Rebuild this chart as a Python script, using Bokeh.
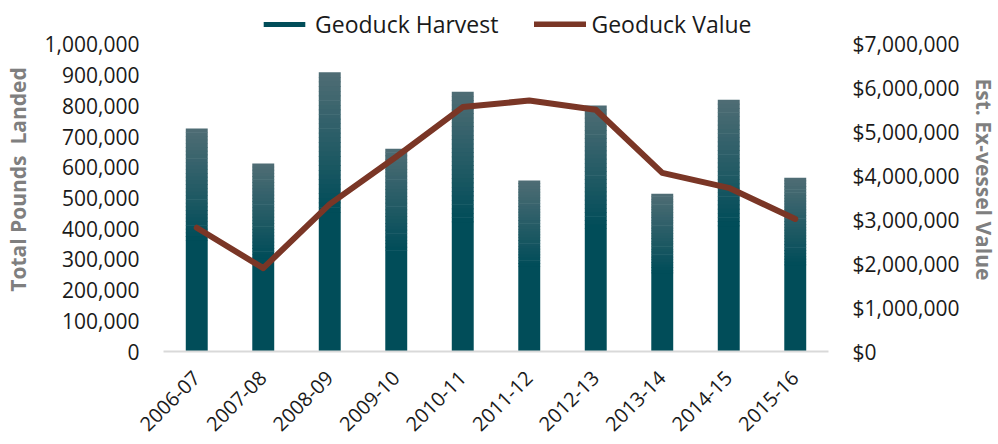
from bokeh.plotting import figure
from bokeh.models import (ColumnDataSource, FactorRange, Range1d, LinearAxis,
                          NumeralTickFormatter, FixedTicker, Legend, LegendItem)
from bokeh.embed import file_html
from bokeh.resources import INLINE
import math

seasons = ["2006-07", "2007-08", "2008-09", "2009-10", "2010-11",
           "2011-12", "2012-13", "2013-14", "2014-15", "2015-16"]
harvest_lbs = [726000, 612000, 909000, 660000, 846000,
               557000, 801000, 514000, 820000, 566000]
value_usd = [2820000, 1900000, 3360000, 4440000, 5570000,
             5720000, 5510000, 4070000, 3730000, 3020000]
left_ticks = [i * 100000 for i in range(11)]
right_ticks = [i * 1000000 for i in range(8)]

TOP_RGB = (78, 108, 116)
DARK_RGB = (1, 77, 89)
DARK = "#014d59"
LINE_COLOR = "#7a3626"
FONT = "Open Sans"
N = 30
HEAD = 1.12  # extra room above the axes for the legend
OVER = 2000  # small overlap between gradient slices (data units)

def mix(t):
    r = [round(TOP_RGB[k] + (DARK_RGB[k] - TOP_RGB[k]) * t) for k in range(3)]
    return "#%02x%02x%02x" % tuple(r)

# gradient over the upper half of each bar, solid below
gx, gt, gb, gc = [], [], [], []
for s, h in zip(seasons, harvest_lbs):
    for k in range(N):
        gx.append(s)
        gt.append(h - h * 0.5 * k / N)
        gb.append(h - h * 0.5 * (k + 1) / N - OVER)
        gc.append(mix(k / (N - 1)))
grad = ColumnDataSource(dict(x=gx, top=gt, bottom=gb, color=gc))
base = ColumnDataSource(dict(x=seasons, top=[h * 0.5 for h in harvest_lbs],
                             bottom=[0] * len(seasons)))
line_src = ColumnDataSource(dict(x=seasons, y=value_usd))

p = figure(x_range=FactorRange(*seasons), y_range=Range1d(0, 1000000 * HEAD),
           frame_width=665, frame_height=round(307 * HEAD), output_backend="svg",
           toolbar_location=None, min_border_left=157, min_border_right=5,
           min_border_top=7, min_border_bottom=0)
p.outline_line_color = None
p.xgrid.grid_line_color = None
p.ygrid.grid_line_color = None

p.extra_y_ranges = {"val": Range1d(0, 7000000 * HEAD)}

bars = p.vbar(x="x", top="top", bottom="bottom", width=0.33, source=base,
              fill_color=DARK, line_color=None)
p.vbar(x="x", top="top", bottom="bottom", width=0.33, source=grad,
       fill_color="color", line_color=None)
ln = p.line(x="x", y="y", source=line_src, y_range_name="val",
            line_color=LINE_COLOR, line_width=6, line_cap="round", line_join="round")

ya = p.yaxis[0]
ya.ticker = FixedTicker(ticks=left_ticks)
ya.formatter = NumeralTickFormatter(format="0,0")
ya.axis_label = "Total Pounds\u00a0 Landed"

ra = LinearAxis(y_range_name="val", ticker=FixedTicker(ticks=right_ticks),
                formatter=NumeralTickFormatter(format="$0,0"),
                axis_label="Est. Ex-vessel Value")
p.add_layout(ra, "right")

for ax in (ya, ra):
    ax.axis_line_color = None
    ax.major_tick_line_color = None
    ax.minor_tick_line_color = None
    ax.major_label_text_font = FONT
    ax.major_label_text_font_size = "21px"
    ax.major_label_text_color = "#1a1a1a"
    ax.major_label_standoff = 18
    ax.axis_label_text_font = FONT
    ax.axis_label_text_font_size = "21px"
    ax.axis_label_text_font_style = "bold"
    ax.axis_label_text_color = "#7f7f7f"
ya.axis_label_standoff = 10
ra.axis_label_standoff = 8

xa = p.xaxis[0]
xa.axis_line_color = "#d9d9d9"
xa.axis_line_width = 2
xa.major_tick_line_color = None
xa.minor_tick_line_color = None
xa.major_label_orientation = math.pi / 4
xa.major_label_text_font = FONT
xa.major_label_text_font_size = "20px"
xa.major_label_text_color = "#1a1a1a"
xa.major_label_standoff = 17

legend = Legend(items=[LegendItem(label="Geoduck Harvest", renderers=[bars]),
                       LegendItem(label="Geoduck Value", renderers=[ln])],
                orientation="horizontal", location=(95, 311),
                label_text_font=FONT, label_text_font_size="23px",
                label_text_color="#1a1a1a", glyph_width=52, glyph_height=6,
                label_standoff=5, spacing=36, padding=0, margin=0,
                border_line_color=None, background_fill_alpha=0)
p.add_layout(legend)

open("out.html", "w").write(file_html(p, INLINE))
